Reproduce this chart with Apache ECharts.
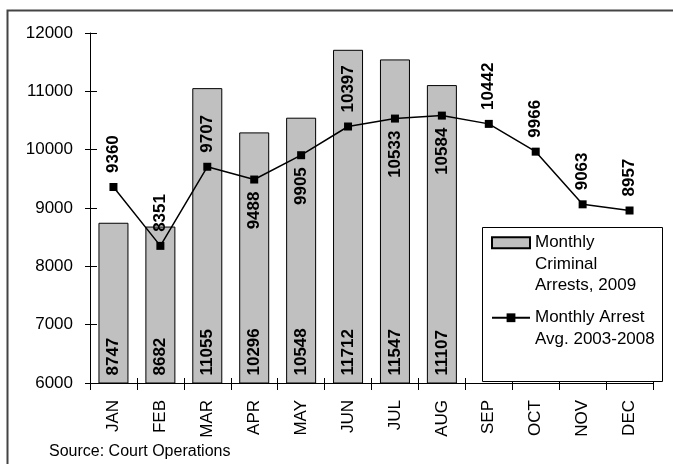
<!DOCTYPE html>
<html>
<head>
<meta charset="utf-8">
<script src="https://cdn.jsdelivr.net/npm/echarts@6/dist/echarts.min.js"></script>
<style>
html,body{margin:0;padding:0;background:#fff;}
#chart{width:673px;height:464px;}
</style>
</head>
<body>
<div id="chart"></div>
<script>
var months = ['JAN','FEB','MAR','APR','MAY','JUN','JUL','AUG','SEP','OCT','NOV','DEC'];
var arrests2009 = [8747, 8682, 11055, 10296, 10548, 11712, 11547, 11107, null, null, null, null];
var avg20032008 = [9360, 8351, 9707, 9488, 9905, 10397, 10533, 10584, 10442, 9966, 9063, 8957];
var yTicks = [6000, 7000, 8000, 9000, 10000, 11000, 12000];
var barName = 'Monthly Criminal Arrests, 2009';
var lineName = 'Monthly Arrest Avg. 2003-2008';
var barLegendLines = ['Monthly', 'Criminal', 'Arrests, 2009'];
var lineLegendLines = ['Monthly Arrest', 'Avg. 2003-2008'];
var sourceText = 'Source: Court Operations';

// label placement style (which line labels sit below their point)
var labelBelow = ['APR','MAY','JUL','AUG'];

var FONT = '"Liberation Sans", Arial, sans-serif';
var LH = 21.5;

// pad with leading blank lines so the first text line is centred on the legend icon
function legendText(lines) {
  var pad = [];
  for (var i = 0; i < lines.length - 1; i++) pad.push(' ');
  return pad.concat(lines).join('\n');
}

var chart = echarts.init(document.getElementById('chart'), null, {renderer: 'canvas'});

var lineData = avg20032008.map(function (v, i) {
  var below = labelBelow.indexOf(months[i]) >= 0;
  return {
    value: v,
    label: below ? {position: 'bottom', align: 'right', distance: 8}
                 : {position: 'top', align: 'left', distance: 10}
  };
});

var option = {
  animation: false,
  backgroundColor: '#fff',
  textStyle: {fontFamily: FONT},
  title: {
    text: sourceText,
    left: 49, top: 444, padding: 0,
    textStyle: {fontFamily: FONT, fontSize: 16, fontWeight: 'normal', color: '#000'}
  },
  grid: {left: 90, right: 20, top: 33, bottom: 81, containLabel: false},
  legend: {
    orient: 'vertical',
    left: 491, top: 189,
    padding: 0,
    itemWidth: 38, itemHeight: 11,
    itemGap: -11,
    textStyle: {fontFamily: FONT, fontSize: 17, color: '#000', lineHeight: LH},
    formatter: function (n) {
      return n === barName ? legendText(barLegendLines) : legendText(lineLegendLines);
    },
    data: [
      {name: barName, icon: 'rect'},
      {name: lineName}
    ]
  },
  graphic: [
    {type: 'rect', left: 5, top: 8, shape: {x: 0, y: 0, width: 720, height: 520},
     style: {fill: 'none', stroke: '#444', lineWidth: 2}, silent: true, z: 0},
    {type: 'rect', left: 482, top: 227, shape: {x: 0, y: 0, width: 180, height: 154},
     style: {fill: '#fff', stroke: '#000', lineWidth: 1}, silent: true, z: 1}
  ],
  xAxis: [{
    type: 'category',
    data: months,
    axisLine: {lineStyle: {color: '#000', width: 1}},
    axisTick: {show: true, length: 7, lineStyle: {color: '#000'}},
    axisLabel: {rotate: 90, margin: 17, fontSize: 17, color: '#000', fontFamily: FONT}
  }, {
    type: 'category',
    data: months,
    position: 'bottom',
    axisLine: {show: false},
    axisTick: {show: true, inside: true, length: 5, lineStyle: {color: '#000'}},
    axisLabel: {show: false}
  }],
  yAxis: [{
    type: 'value',
    min: yTicks[0], max: yTicks[yTicks.length - 1], interval: 1000,
    axisLine: {show: true, lineStyle: {color: '#000', width: 1}},
    axisTick: {show: true, length: 5, lineStyle: {color: '#000'}},
    splitLine: {show: false},
    axisLabel: {margin: 17, fontSize: 17, color: '#000', fontFamily: FONT,
                formatter: function (v) { return String(v); }}
  }, {
    type: 'value',
    position: 'left',
    min: yTicks[0], max: yTicks[yTicks.length - 1], interval: 1000,
    axisLine: {show: false},
    axisTick: {show: true, inside: true, length: 7, lineStyle: {color: '#000'}},
    splitLine: {show: false},
    axisLabel: {show: false}
  }],
  series: [{
    name: barName,
    type: 'bar',
    data: arrests2009,
    barWidth: 30,
    itemStyle: {color: '#c0c0c0', borderColor: '#000', borderWidth: 1},
    label: {
      show: true, position: 'insideBottom', rotate: 90, distance: 8,
      align: 'left', verticalAlign: 'middle',
      fontSize: 17, fontWeight: 'bold', color: '#000', fontFamily: FONT
    },
    z: 2
  }, {
    name: lineName,
    type: 'line',
    data: lineData,
    symbol: 'rect', symbolSize: 8,
    lineStyle: {color: '#000', width: 1.5},
    itemStyle: {color: '#000'},
    label: {
      show: true, rotate: 90, verticalAlign: 'middle',
      fontSize: 17, fontWeight: 'bold', color: '#000', fontFamily: FONT
    },
    z: 3
  }]
};
chart.setOption(option);
</script>
</body>
</html>
